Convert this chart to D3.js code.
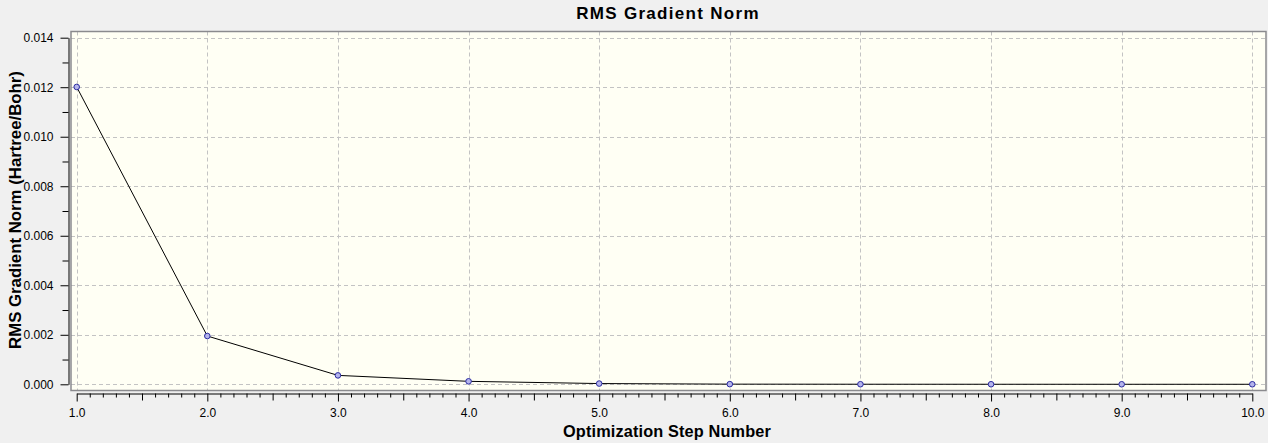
<!DOCTYPE html>
<html>
<head>
<meta charset="utf-8">
<script src="https://cdn.jsdelivr.net/npm/d3@7"></script>
<style>
  html, body { margin: 0; padding: 0; background: #f0f0f0; }
  svg { display: block; font-family: "Liberation Sans", Arial, sans-serif; }
</style>
</head>
<body>
<div id="viz"></div>
<script>
// values
let steps = [1, 2, 3, 4, 5, 6, 7, 8, 9, 10];
let rmsGrad = [0.01201, 0.00195, 0.00036, 0.00012, 0.00003, 0.000006, 0.000003, 0.000002, 0.000001, 0.000001];
let yMajor = [0, 0.002, 0.004, 0.006, 0.008, 0.01, 0.012, 0.014];
let yMinor = [0.001, 0.003, 0.005, 0.007, 0.009, 0.011, 0.013];
let xMajor = [1, 2, 3, 4, 5, 6, 7, 8, 9, 10];

let width = 1268, height = 443;
let frame = { left: 71, top: 31.5, right: 1266, bottom: 390.5 };

let data = steps.map((s, i) => ({ step: s, value: rmsGrad[i] }));

let x = d3.scaleLinear().domain([1, 10]).range([76.7, 1252.3]);
let y = d3.scaleLinear().domain([0, 0.014]).range([384.3, 37.7]);

// half and tenth ticks on x
let xHalf = xMajor.slice(0, -1).map(d => d + 0.5);
let xMinor = [];
xMajor.slice(0, -1).forEach(d => {
  for (let k = 1; k < 10; k++) if (k !== 5) xMinor.push(d + k / 10);
});

let svg = d3.select("#viz")
  .append("svg")
  .attr("width", width)
  .attr("height", height);

// plot area
svg.append("rect")
  .attr("x", frame.left)
  .attr("y", frame.top)
  .attr("width", frame.right - frame.left)
  .attr("height", frame.bottom - frame.top)
  .attr("fill", "#fffff4");

// grid
let grid = svg.append("g")
  .attr("stroke", "#c3c3c3")
  .attr("stroke-width", 1)
  .attr("stroke-dasharray", "4,3");

grid.selectAll("line.v")
  .data(xMajor)
  .join("line")
  .attr("class", "v")
  .attr("x1", d => Math.round(x(d)) + 0.5)
  .attr("x2", d => Math.round(x(d)) + 0.5)
  .attr("y1", frame.top)
  .attr("y2", frame.bottom);

grid.selectAll("line.h")
  .data(yMajor)
  .join("line")
  .attr("class", "h")
  .attr("x1", frame.left)
  .attr("x2", frame.right)
  .attr("y1", d => Math.round(y(d)) + 0.5)
  .attr("y2", d => Math.round(y(d)) + 0.5);

// frame border
svg.append("rect")
  .attr("x", frame.left)
  .attr("y", frame.top)
  .attr("width", frame.right - frame.left)
  .attr("height", frame.bottom - frame.top)
  .attr("fill", "none")
  .attr("stroke", "#8a8a8e")
  .attr("stroke-width", 1.5);

// y axis
svg.append("g")
  .attr("transform", "translate(68.5,0)")
  .call(d3.axisLeft(y).tickValues(yMajor).tickSize(8).tickSizeOuter(0)
    .tickPadding(7).tickFormat(d3.format(".3f")));

svg.append("g")
  .attr("transform", "translate(68.5,0)")
  .call(d3.axisLeft(y).tickValues(yMinor).tickSize(6).tickSizeOuter(0).tickFormat(""))
  .select(".domain").remove();

// x axis
svg.append("g")
  .attr("transform", "translate(0,393.5)")
  .call(d3.axisBottom(x).tickValues(xMajor).tickSize(8).tickSizeOuter(0)
    .tickPadding(7).tickFormat(d3.format(".1f")));

svg.append("g")
  .attr("transform", "translate(0,393.5)")
  .call(d3.axisBottom(x).tickValues(xHalf).tickSize(7).tickSizeOuter(0).tickFormat(""))
  .select(".domain").remove();

svg.append("g")
  .attr("transform", "translate(0,393.5)")
  .call(d3.axisBottom(x).tickValues(xMinor).tickSize(4).tickSizeOuter(0).tickFormat(""))
  .select(".domain").remove();

svg.selectAll(".tick text")
  .attr("font-size", 12)
  .attr("font-family", "Liberation Sans, Arial, sans-serif")
  .attr("fill", "#000");
svg.selectAll(".domain, .tick line").attr("stroke", "#000");

// line + markers
let line = d3.line()
  .x(d => x(d.step))
  .y(d => y(d.value));

svg.append("path")
  .datum(data)
  .attr("fill", "none")
  .attr("stroke", "#000")
  .attr("stroke-width", 1)
  .attr("d", line);

svg.selectAll("circle.pt")
  .data(data)
  .join("circle")
  .attr("class", "pt")
  .attr("cx", d => x(d.step))
  .attr("cy", d => y(d.value))
  .attr("r", 2.8)
  .attr("fill", "#b4b4ec")
  .attr("stroke", "#2a2aa0")
  .attr("stroke-width", 1);

// titles
svg.append("text")
  .attr("x", 668)
  .attr("y", 19)
  .attr("text-anchor", "middle")
  .attr("font-size", 17)
  .attr("font-weight", "bold")
  .attr("letter-spacing", 1.3)
  .text("RMS Gradient Norm");

svg.append("text")
  .attr("x", 667)
  .attr("y", 436.5)
  .attr("text-anchor", "middle")
  .attr("font-size", 16.3)
  .attr("font-weight", "bold")
  .attr("letter-spacing", 0.15)
  .text("Optimization Step Number");

svg.append("text")
  .attr("transform", "translate(20.5,210) rotate(-90)")
  .attr("text-anchor", "middle")
  .attr("font-size", 16.8)
  .attr("font-weight", "bold")
  .text("RMS Gradient Norm (Hartree/Bohr)");
</script>
</body>
</html>
